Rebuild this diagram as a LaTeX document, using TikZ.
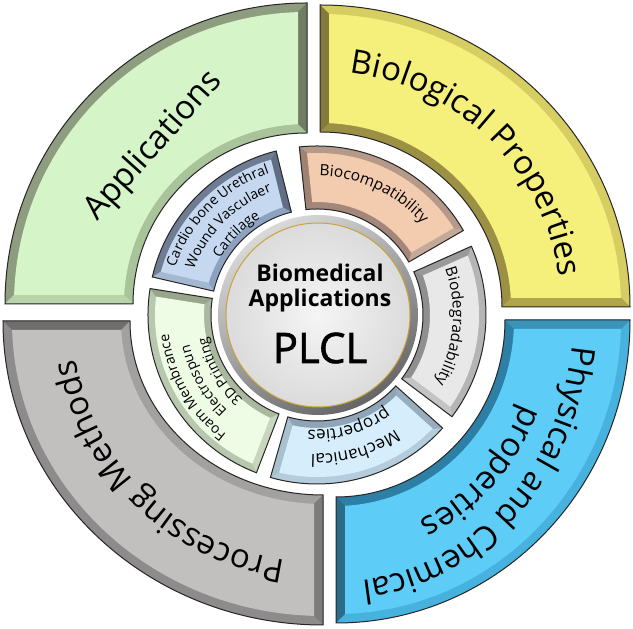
\documentclass[tikz,border=0pt]{standalone}
\usepackage{fontspec}
\setmainfont{Open Sans}
\usetikzlibrary{calc,decorations.text}

\definecolor{appMain}{HTML}{D5F5C8}\definecolor{appIn}{HTML}{A9C39B}\definecolor{appOut}{HTML}{8E9C80}\definecolor{appA}{HTML}{6F7D62}\definecolor{appB}{HTML}{B9D3AA}
\definecolor{bioMain}{HTML}{F5EF7B}\definecolor{bioIn}{HTML}{9C9044}\definecolor{bioOut}{HTML}{D6CE62}\definecolor{bioA}{HTML}{B0A44C}\definecolor{bioB}{HTML}{857A3C}
\definecolor{phyMain}{HTML}{5DCCF7}\definecolor{phyIn}{HTML}{2E7FA6}\definecolor{phyOut}{HTML}{48B2DE}\definecolor{phyA}{HTML}{2B6C8A}\definecolor{phyB}{HTML}{3B93BA}
\definecolor{proMain}{HTML}{C2BFBF}\definecolor{proIn}{HTML}{A3A0A0}\definecolor{proOut}{HTML}{8D8B8B}\definecolor{proA}{HTML}{6F6D6D}\definecolor{proB}{HTML}{7D7B7B}
\definecolor{carMain}{HTML}{C5D8F0}\definecolor{carIn}{HTML}{8DA2BE}\definecolor{carOut}{HTML}{6E7D93}\definecolor{carA}{HTML}{5F6E84}\definecolor{carB}{HTML}{A4B8D2}
\definecolor{bcMain}{HTML}{F3CCB0}\definecolor{bcIn}{HTML}{A3877A}\definecolor{bcOut}{HTML}{B59A8A}\definecolor{bcA}{HTML}{C4A898}\definecolor{bcB}{HTML}{9E8272}
\definecolor{bdMain}{HTML}{E8E8E8}\definecolor{bdIn}{HTML}{8F8F8F}\definecolor{bdOut}{HTML}{B5B5B5}\definecolor{bdA}{HTML}{C4C4C4}\definecolor{bdB}{HTML}{9A9A9A}
\definecolor{meMain}{HTML}{D6EEFC}\definecolor{meIn}{HTML}{8FA4B6}\definecolor{meOut}{HTML}{B4CCDB}\definecolor{meA}{HTML}{A9C0CE}\definecolor{meB}{HTML}{98AEBE}
\definecolor{foMain}{HTML}{EEFCE6}\definecolor{foIn}{HTML}{AAB8A0}\definecolor{foOut}{HTML}{B8C8AE}\definecolor{foA}{HTML}{97A68C}\definecolor{foB}{HTML}{C8D6BE}
\definecolor{goldline}{HTML}{C9A43A}

\tikzset{outline/.style={draw=black!85, line width=1pt, line join=miter}}

\newcommand\setpiece[9]{\def\pcx{#1}\def\pcy{#2}\def\pa{#3}\def\pb{#4}\def\prxi{#5}\def\pryi{#6}\def\prxo{#7}\def\pryo{#8}\def\pw{#9}}
\newcommand\drawpiece[5]{%
 \pgfmathsetmacro\pmid{(\pa+\pb)/2}%
 \pgfmathsetmacro\pd{\pw/sin((\pb-(\pa))/2)}%
 \pgfmathsetmacro\pL{2.5*\pw}%
 \pgfmathsetmacro\rxoi{\prxo-\pw}%
 \pgfmathsetmacro\ryoi{\pryo-\pw}%
 \pgfmathsetmacro\rxii{\prxi+\pw}%
 \pgfmathsetmacro\ryii{\pryi+\pw}%
 \coordinate (pc) at (\pcx,\pcy);
 \coordinate (oa) at ($(pc)+(\pa:\prxo pt and \pryo pt)$);
 \coordinate (ob) at ($(pc)+(\pb:\prxo pt and \pryo pt)$);
 \coordinate (ia) at ($(pc)+(\pa:\prxi pt and \pryi pt)$);
 \coordinate (ib) at ($(pc)+(\pb:\prxi pt and \pryi pt)$);
 \begin{scope}
  \clip (oa) arc[start angle=\pa, end angle=\pb, x radius=\prxo pt, y radius=\pryo pt] -- (ib) arc[start angle=\pb, end angle=\pa, x radius=\prxi pt, y radius=\pryi pt] -- cycle;
  \fill[#2] (pc) circle (420pt);
  \fill[#3] (oa) arc[start angle=\pa, end angle=\pb, x radius=\prxo pt, y radius=\pryo pt] -- ($(ob)+({\pb-135}:\pL pt)$) -- ($(oa)+({\pa+135}:\pL pt)$) -- cycle;
  \fill[#4] (ia) -- (oa) -- ($(oa)+({\pa+135}:\pL pt)$) -- ($(ia)+({\pa+45}:\pL pt)$) -- cycle;
  \fill[#5] (ib) -- (ob) -- ($(ob)+({\pb-135}:\pL pt)$) -- ($(ib)+({\pb-45}:\pL pt)$) -- cycle;
  \coordinate (ap) at ($(pc)+(\pmid:\pd pt)$);
  \clip (ap) -- ($(ap)+(\pa:600pt)$) -- ($(ap)+(\pmid:800pt)$) -- ($(ap)+(\pb:600pt)$) -- cycle;
  \fill[#1, even odd rule] (pc) ellipse[x radius=\rxoi pt, y radius=\ryoi pt] (pc) ellipse[x radius=\rxii pt, y radius=\ryii pt];
 \end{scope}
 \draw[outline] (oa) arc[start angle=\pa, end angle=\pb, x radius=\prxo pt, y radius=\pryo pt] -- (ib) arc[start angle=\pb, end angle=\pa, x radius=\prxi pt, y radius=\pryi pt] -- cycle;
}
% cx, cy, start, end, rx, ry, size, text
\newcommand\arctext[8]{%
 \path[decorate, decoration={text along path, text align=center, text={|\fontsize{#7}{#7}\selectfont|#8}}]
  ($(#1,#2)+(#3:#5pt and #6pt)$) arc[start angle=#3, end angle=#4, x radius=#5pt, y radius=#6pt];
}

\begin{document}
\begin{tikzpicture}[x=1pt,y=1pt]
\useasboundingbox (0,0) rectangle (633,629);
\fill[white] (0,0) rectangle (633,629);

% outer ring
\setpiece{307}{325}{90}{180}{174}{171}{302}{301}{9}
\drawpiece{appMain}{appIn}{appOut}{appA}{appB}
\setpiece{320}{322}{0}{90}{182}{175}{310}{302}{9}
\drawpiece{bioMain}{bioIn}{bioOut}{bioA}{bioB}
\setpiece{336}{309}{270}{360}{169}{177}{294}{303}{9}
\drawpiece{phyMain}{phyIn}{phyOut}{phyA}{phyB}
\setpiece{323}{308}{180}{270}{193}{174}{320}{304}{9}
\drawpiece{proMain}{proIn}{proOut}{proA}{proB}

% inner ring
\setpiece{317}{314}{104}{167}{106}{106}{169}{169}{7}
\drawpiece{carMain}{carIn}{carOut}{carA}{carB}
\setpiece{317}{314}{30}{96}{106}{106}{169}{169}{7}
\drawpiece{bcMain}{bcIn}{bcOut}{bcA}{bcB}
\setpiece{317}{314}{-37}{24}{106}{106}{169}{169}{7}
\drawpiece{bdMain}{bdIn}{bdOut}{bdA}{bdB}
\setpiece{317}{314}{-106}{-42}{106}{106}{169}{169}{7}
\drawpiece{meMain}{meIn}{meOut}{meA}{meB}
\setpiece{317}{314}{171}{249}{106}{106}{169}{169}{7}
\drawpiece{foMain}{foIn}{foOut}{foA}{foB}

% centre disc
\coordinate (c0) at (318,314);
\shade[top color=white!85!black, bottom color=white!40!black, shading angle=30] (c0) circle (100pt);
\shade[inner color=white!96!black, outer color=white!86!black] (c0) circle (92pt);
\draw[goldline, line width=1pt] (c0) circle (92pt);
\node[font=\bfseries\fontsize{23}{23}\selectfont, anchor=base] (t1) at (320,347) {Biomedical};
\node[font=\bfseries\fontsize{23}{23}\selectfont, anchor=base] (t2) at (320,322) {Applications};
\node[font=\fontsize{42}{42}\selectfont\addfontfeature{FakeBold=1.6}, anchor=base] (t3) at (320,266) {PLCL};

% outer labels
\node[font=\fontsize{33}{33}\selectfont, anchor=base, rotate=48] (app) at (160,477) {Applications};
\arctext{320}{322}{90}{0}{241}{236}{33}{Biological Properties}
\arctext{336}{309}{0}{-90}{237}{262}{33}{Physical and Chemical}
\arctext{336}{309}{0}{-90}{202}{220}{33}{properties}
\arctext{323}{308}{270}{180}{250}{242}{33}{Processing Methods}

% inner labels
\arctext{317}{314}{180}{90}{149.5}{149.5}{14}{Cardio bone Urethral}
\arctext{317}{314}{180}{90}{131}{131}{14}{Wound Vasculaer}
\arctext{317}{314}{180}{90}{112}{112}{14}{Cartilage}
\arctext{317}{314}{110}{20}{139}{139}{15.5}{Biocompatibility}
\arctext{317}{314}{40}{-50}{136}{136}{15.5}{Biodegradability}
\arctext{317}{314}{-29}{-119}{139}{139}{17}{Mechanical}
\arctext{317}{314}{-29}{-119}{115}{115}{17}{properties}
\arctext{317}{314}{255}{165}{149.5}{149.5}{14}{Foam Membrance}
\arctext{317}{314}{255}{165}{131}{131}{14}{Electrospun}
\arctext{317}{314}{255}{165}{112}{112}{14}{3D Printing}
\end{tikzpicture}
\end{document}
